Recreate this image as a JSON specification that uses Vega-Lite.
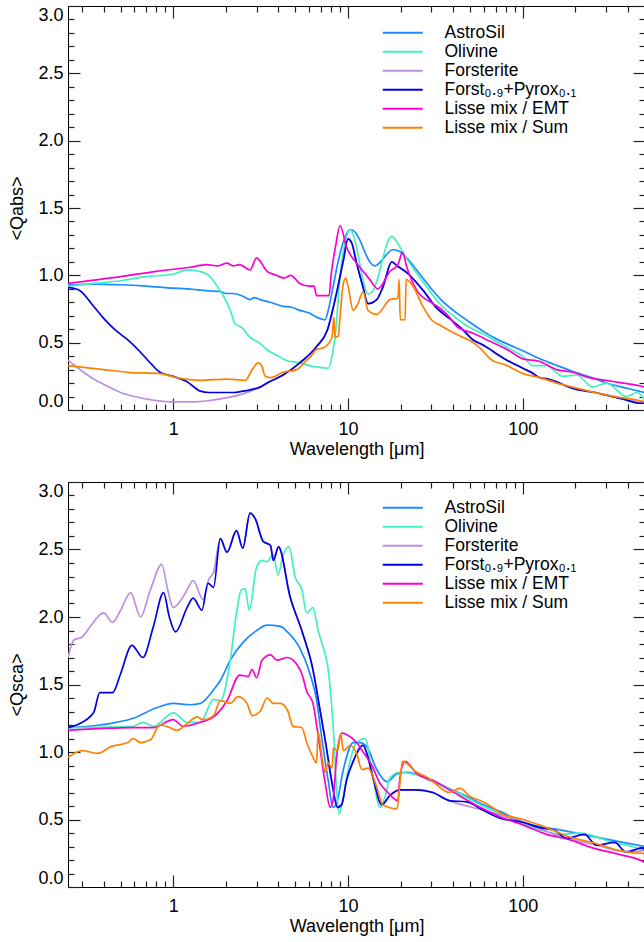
{
"$schema": "https://vega.github.io/schema/vega-lite/v6.json",
"padding": {"left": 8, "top": 4, "right": 0, "bottom": 4},
"bounds": "flush",
"spacing": 72,
"config": {
  "font": "Liberation Sans",
  "view": {"stroke": "black", "strokeWidth": 1},
  "axis": {"domain": false, "grid": false, "labelFontSize": 18, "labelColor": "black", "titleFontSize": 18, "titleFontWeight": "normal", "titleColor": "black", "tickColor": "#222", "tickWidth": 1.2, "labelFont": "Liberation Sans", "titleFont": "Liberation Sans", "labelOverlap": false},
  "legend": {"orient": "none", "legendX": 326, "legendY": 18, "title": null, "symbolType": "M-4,0H4", "symbolSize": 100, "symbolStrokeWidth": 2.2, "labelFontSize": 17.5, "labelFont": "Liberation Sans", "labelColor": "black", "labelOffset": 33, "rowPadding": 0, "padding": 0, "labelLimit": 300}
},
"resolve": {"legend": {"color": "independent"}},
"datasets": {
"abs": [
{"s":"AstroSil","w":0.25,"q":0.93},{"s":"AstroSil","w":0.35,"q":0.935},{"s":"AstroSil","w":0.5,"q":0.93},{"s":"AstroSil","w":0.7,"q":0.92},{"s":"AstroSil","w":1,"q":0.905},{"s":"AstroSil","w":1.2,"q":0.9},{"s":"AstroSil","w":1.43,"q":0.89},{"s":"AstroSil","w":1.6,"q":0.885},{"s":"AstroSil","w":1.86,"q":0.88},{"s":"AstroSil","w":2.0,"q":0.865},{"s":"AstroSil","w":2.2,"q":0.865},{"s":"AstroSil","w":2.5,"q":0.845},{"s":"AstroSil","w":2.75,"q":0.82},{"s":"AstroSil","w":2.9,"q":0.835},{"s":"AstroSil","w":3.14,"q":0.82},{"s":"AstroSil","w":3.6,"q":0.8},{"s":"AstroSil","w":4.25,"q":0.77},{"s":"AstroSil","w":4.7,"q":0.765},{"s":"AstroSil","w":5.3,"q":0.74},{"s":"AstroSil","w":6,"q":0.72},{"s":"AstroSil","w":6.6,"q":0.69},{"s":"AstroSil","w":7.4,"q":0.67},{"s":"AstroSil","w":7.7,"q":0.74},{"s":"AstroSil","w":8.2,"q":0.91},{"s":"AstroSil","w":8.8,"q":1.11},{"s":"AstroSil","w":9.4,"q":1.25},{"s":"AstroSil","w":10.3,"q":1.34},{"s":"AstroSil","w":11,"q":1.32},{"s":"AstroSil","w":11.8,"q":1.25},{"s":"AstroSil","w":12.6,"q":1.16},{"s":"AstroSil","w":13.5,"q":1.09},{"s":"AstroSil","w":14.3,"q":1.07},{"s":"AstroSil","w":15.3,"q":1.1},{"s":"AstroSil","w":16.5,"q":1.15},{"s":"AstroSil","w":18,"q":1.19},{"s":"AstroSil","w":19.5,"q":1.18},{"s":"AstroSil","w":22,"q":1.12},{"s":"AstroSil","w":25,"q":1.03},{"s":"AstroSil","w":30,"q":0.9},{"s":"AstroSil","w":34,"q":0.82},{"s":"AstroSil","w":40,"q":0.74},{"s":"AstroSil","w":50,"q":0.65},{"s":"AstroSil","w":60,"q":0.58},{"s":"AstroSil","w":70,"q":0.53},{"s":"AstroSil","w":85,"q":0.48},{"s":"AstroSil","w":100,"q":0.44},{"s":"AstroSil","w":125,"q":0.38},{"s":"AstroSil","w":150,"q":0.34},{"s":"AstroSil","w":200,"q":0.28},{"s":"AstroSil","w":250,"q":0.24},{"s":"AstroSil","w":300,"q":0.2},{"s":"AstroSil","w":400,"q":0.16},{"s":"AstroSil","w":500,"q":0.13},
{"s":"Olivine","w":0.25,"q":0.92},{"s":"Olivine","w":0.35,"q":0.94},{"s":"Olivine","w":0.5,"q":0.96},{"s":"Olivine","w":0.7,"q":0.99},{"s":"Olivine","w":1,"q":1.01},{"s":"Olivine","w":1.22,"q":1.04},{"s":"Olivine","w":1.5,"q":1.02},{"s":"Olivine","w":1.65,"q":0.98},{"s":"Olivine","w":1.78,"q":0.92},{"s":"Olivine","w":1.93,"q":0.85},{"s":"Olivine","w":2.12,"q":0.74},{"s":"Olivine","w":2.26,"q":0.64},{"s":"Olivine","w":2.48,"q":0.61},{"s":"Olivine","w":2.75,"q":0.54},{"s":"Olivine","w":3.1,"q":0.5},{"s":"Olivine","w":3.5,"q":0.44},{"s":"Olivine","w":4,"q":0.4},{"s":"Olivine","w":4.4,"q":0.37},{"s":"Olivine","w":5.3,"q":0.35},{"s":"Olivine","w":6,"q":0.33},{"s":"Olivine","w":6.6,"q":0.32},{"s":"Olivine","w":7.7,"q":0.31},{"s":"Olivine","w":8.1,"q":0.4},{"s":"Olivine","w":8.5,"q":0.59},{"s":"Olivine","w":9,"q":0.99},{"s":"Olivine","w":9.6,"q":1.24},{"s":"Olivine","w":10.3,"q":1.34},{"s":"Olivine","w":11,"q":1.25},{"s":"Olivine","w":11.7,"q":1.08},{"s":"Olivine","w":12.3,"q":0.94},{"s":"Olivine","w":13,"q":0.86},{"s":"Olivine","w":13.8,"q":0.88},{"s":"Olivine","w":14.8,"q":0.98},{"s":"Olivine","w":16,"q":1.15},{"s":"Olivine","w":17,"q":1.26},{"s":"Olivine","w":17.8,"q":1.29},{"s":"Olivine","w":19,"q":1.25},{"s":"Olivine","w":21,"q":1.15},{"s":"Olivine","w":24,"q":1.04},{"s":"Olivine","w":28,"q":0.92},{"s":"Olivine","w":34,"q":0.78},{"s":"Olivine","w":40,"q":0.7},{"s":"Olivine","w":50,"q":0.61},{"s":"Olivine","w":60,"q":0.56},{"s":"Olivine","w":75,"q":0.49},{"s":"Olivine","w":88,"q":0.44},{"s":"Olivine","w":100,"q":0.4},{"s":"Olivine","w":114,"q":0.33},{"s":"Olivine","w":137,"q":0.33},{"s":"Olivine","w":169,"q":0.25},{"s":"Olivine","w":204,"q":0.26},{"s":"Olivine","w":251,"q":0.17},{"s":"Olivine","w":302,"q":0.2},{"s":"Olivine","w":392,"q":0.1},{"s":"Olivine","w":450,"q":0.13},{"s":"Olivine","w":500,"q":0.07},
{"s":"Forsterite","w":0.25,"q":0.37},{"s":"Forsterite","w":0.3,"q":0.29},{"s":"Forsterite","w":0.35,"q":0.23},{"s":"Forsterite","w":0.4,"q":0.19},{"s":"Forsterite","w":0.5,"q":0.13},{"s":"Forsterite","w":0.6,"q":0.1},{"s":"Forsterite","w":0.8,"q":0.07},{"s":"Forsterite","w":1,"q":0.06},{"s":"Forsterite","w":1.3,"q":0.06},{"s":"Forsterite","w":1.6,"q":0.07},{"s":"Forsterite","w":2,"q":0.09},{"s":"Forsterite","w":2.5,"q":0.12},{"s":"Forsterite","w":3.14,"q":0.17},{"s":"Forsterite","w":3.44,"q":0.2},{"s":"Forsterite","w":4.25,"q":0.26},{"s":"Forsterite","w":5.3,"q":0.35},{"s":"Forsterite","w":6.6,"q":0.47},{"s":"Forsterite","w":7.6,"q":0.59},{"s":"Forsterite","w":8.6,"q":0.87},{"s":"Forsterite","w":9.4,"q":1.11},{"s":"Forsterite","w":10,"q":1.27},{"s":"Forsterite","w":10.5,"q":1.24},{"s":"Forsterite","w":11.2,"q":1.09},{"s":"Forsterite","w":12.2,"q":0.91},{"s":"Forsterite","w":13,"q":0.79},{"s":"Forsterite","w":14.6,"q":0.82},{"s":"Forsterite","w":15.8,"q":0.91},{"s":"Forsterite","w":17.8,"q":1.1},{"s":"Forsterite","w":19.1,"q":1.07},{"s":"Forsterite","w":21.7,"q":1.02},{"s":"Forsterite","w":26.8,"q":0.89},{"s":"Forsterite","w":32,"q":0.76},{"s":"Forsterite","w":38,"q":0.68},{"s":"Forsterite","w":45,"q":0.6},{"s":"Forsterite","w":52,"q":0.52},{"s":"Forsterite","w":65,"q":0.45},{"s":"Forsterite","w":81,"q":0.37},{"s":"Forsterite","w":100,"q":0.31},{"s":"Forsterite","w":125,"q":0.24},{"s":"Forsterite","w":156,"q":0.21},{"s":"Forsterite","w":193,"q":0.16},{"s":"Forsterite","w":260,"q":0.13},{"s":"Forsterite","w":350,"q":0.09},{"s":"Forsterite","w":500,"q":0.05},
{"s":"Forst₀.₉+Pyrox₀.₁","w":0.25,"q":0.91},{"s":"Forst₀.₉+Pyrox₀.₁","w":0.29,"q":0.89},{"s":"Forst₀.₉+Pyrox₀.₁","w":0.35,"q":0.77},{"s":"Forst₀.₉+Pyrox₀.₁","w":0.4,"q":0.68},{"s":"Forst₀.₉+Pyrox₀.₁","w":0.46,"q":0.6},{"s":"Forst₀.₉+Pyrox₀.₁","w":0.55,"q":0.52},{"s":"Forst₀.₉+Pyrox₀.₁","w":0.67,"q":0.41},{"s":"Forst₀.₉+Pyrox₀.₁","w":0.75,"q":0.34},{"s":"Forst₀.₉+Pyrox₀.₁","w":0.84,"q":0.28},{"s":"Forst₀.₉+Pyrox₀.₁","w":1,"q":0.25},{"s":"Forst₀.₉+Pyrox₀.₁","w":1.2,"q":0.21},{"s":"Forst₀.₉+Pyrox₀.₁","w":1.43,"q":0.14},{"s":"Forst₀.₉+Pyrox₀.₁","w":1.6,"q":0.13},{"s":"Forst₀.₉+Pyrox₀.₁","w":1.86,"q":0.13},{"s":"Forst₀.₉+Pyrox₀.₁","w":2.2,"q":0.13},{"s":"Forst₀.₉+Pyrox₀.₁","w":2.5,"q":0.14},{"s":"Forst₀.₉+Pyrox₀.₁","w":2.75,"q":0.15},{"s":"Forst₀.₉+Pyrox₀.₁","w":3.14,"q":0.17},{"s":"Forst₀.₉+Pyrox₀.₁","w":3.44,"q":0.2},{"s":"Forst₀.₉+Pyrox₀.₁","w":4.25,"q":0.26},{"s":"Forst₀.₉+Pyrox₀.₁","w":5.3,"q":0.35},{"s":"Forst₀.₉+Pyrox₀.₁","w":6.6,"q":0.47},{"s":"Forst₀.₉+Pyrox₀.₁","w":7.6,"q":0.59},{"s":"Forst₀.₉+Pyrox₀.₁","w":8.6,"q":0.87},{"s":"Forst₀.₉+Pyrox₀.₁","w":9.4,"q":1.11},{"s":"Forst₀.₉+Pyrox₀.₁","w":10,"q":1.27},{"s":"Forst₀.₉+Pyrox₀.₁","w":10.5,"q":1.24},{"s":"Forst₀.₉+Pyrox₀.₁","w":11.2,"q":1.09},{"s":"Forst₀.₉+Pyrox₀.₁","w":12.2,"q":0.91},{"s":"Forst₀.₉+Pyrox₀.₁","w":13,"q":0.79},{"s":"Forst₀.₉+Pyrox₀.₁","w":14.6,"q":0.82},{"s":"Forst₀.₉+Pyrox₀.₁","w":15.8,"q":0.91},{"s":"Forst₀.₉+Pyrox₀.₁","w":17.8,"q":1.1},{"s":"Forst₀.₉+Pyrox₀.₁","w":19.1,"q":1.07},{"s":"Forst₀.₉+Pyrox₀.₁","w":21.7,"q":1.02},{"s":"Forst₀.₉+Pyrox₀.₁","w":26.8,"q":0.89},{"s":"Forst₀.₉+Pyrox₀.₁","w":32,"q":0.76},{"s":"Forst₀.₉+Pyrox₀.₁","w":38,"q":0.68},{"s":"Forst₀.₉+Pyrox₀.₁","w":45,"q":0.6},{"s":"Forst₀.₉+Pyrox₀.₁","w":52,"q":0.52},{"s":"Forst₀.₉+Pyrox₀.₁","w":58,"q":0.49},{"s":"Forst₀.₉+Pyrox₀.₁","w":65,"q":0.45},{"s":"Forst₀.₉+Pyrox₀.₁","w":72,"q":0.41},{"s":"Forst₀.₉+Pyrox₀.₁","w":81,"q":0.37},{"s":"Forst₀.₉+Pyrox₀.₁","w":90,"q":0.34},{"s":"Forst₀.₉+Pyrox₀.₁","w":100,"q":0.31},{"s":"Forst₀.₉+Pyrox₀.₁","w":112,"q":0.28},{"s":"Forst₀.₉+Pyrox₀.₁","w":125,"q":0.24},{"s":"Forst₀.₉+Pyrox₀.₁","w":140,"q":0.23},{"s":"Forst₀.₉+Pyrox₀.₁","w":156,"q":0.21},{"s":"Forst₀.₉+Pyrox₀.₁","w":175,"q":0.18},{"s":"Forst₀.₉+Pyrox₀.₁","w":193,"q":0.16},{"s":"Forst₀.₉+Pyrox₀.₁","w":230,"q":0.14},{"s":"Forst₀.₉+Pyrox₀.₁","w":260,"q":0.13},{"s":"Forst₀.₉+Pyrox₀.₁","w":300,"q":0.11},{"s":"Forst₀.₉+Pyrox₀.₁","w":350,"q":0.09},{"s":"Forst₀.₉+Pyrox₀.₁","w":400,"q":0.07},{"s":"Forst₀.₉+Pyrox₀.₁","w":465,"q":0.05},{"s":"Forst₀.₉+Pyrox₀.₁","w":500,"q":0.05},
{"s":"Lisse mix / EMT","w":0.25,"q":0.94},{"s":"Lisse mix / EMT","w":0.5,"q":0.99},{"s":"Lisse mix / EMT","w":0.8,"q":1.03},{"s":"Lisse mix / EMT","w":1.25,"q":1.06},{"s":"Lisse mix / EMT","w":1.56,"q":1.08},{"s":"Lisse mix / EMT","w":1.8,"q":1.07},{"s":"Lisse mix / EMT","w":2.03,"q":1.09},{"s":"Lisse mix / EMT","w":2.2,"q":1.07},{"s":"Lisse mix / EMT","w":2.4,"q":1.08},{"s":"Lisse mix / EMT","w":2.75,"q":1.04},{"s":"Lisse mix / EMT","w":3,"q":1.13},{"s":"Lisse mix / EMT","w":3.2,"q":1.09},{"s":"Lisse mix / EMT","w":3.44,"q":1.03},{"s":"Lisse mix / EMT","w":3.9,"q":1.0},{"s":"Lisse mix / EMT","w":4.3,"q":0.98},{"s":"Lisse mix / EMT","w":4.7,"q":1.0},{"s":"Lisse mix / EMT","w":5.3,"q":0.94},{"s":"Lisse mix / EMT","w":6,"q":0.92},{"s":"Lisse mix / EMT","w":6.4,"q":0.92},{"s":"Lisse mix / EMT","w":6.6,"q":0.85},{"s":"Lisse mix / EMT","w":7.8,"q":0.85},{"s":"Lisse mix / EMT","w":8,"q":1.0},{"s":"Lisse mix / EMT","w":8.5,"q":1.22},{"s":"Lisse mix / EMT","w":9,"q":1.37},{"s":"Lisse mix / EMT","w":9.8,"q":1.21},{"s":"Lisse mix / EMT","w":11.2,"q":1.09},{"s":"Lisse mix / EMT","w":12.2,"q":1.03},{"s":"Lisse mix / EMT","w":13.3,"q":0.97},{"s":"Lisse mix / EMT","w":14.8,"q":0.9},{"s":"Lisse mix / EMT","w":17.4,"q":1.03},{"s":"Lisse mix / EMT","w":19.3,"q":1.08},{"s":"Lisse mix / EMT","w":20.5,"q":1.17},{"s":"Lisse mix / EMT","w":21.7,"q":1.06},{"s":"Lisse mix / EMT","w":24.7,"q":0.89},{"s":"Lisse mix / EMT","w":30.6,"q":0.79},{"s":"Lisse mix / EMT","w":34,"q":0.75},{"s":"Lisse mix / EMT","w":38,"q":0.69},{"s":"Lisse mix / EMT","w":42,"q":0.62},{"s":"Lisse mix / EMT","w":52,"q":0.57},{"s":"Lisse mix / EMT","w":65,"q":0.51},{"s":"Lisse mix / EMT","w":81,"q":0.45},{"s":"Lisse mix / EMT","w":100,"q":0.38},{"s":"Lisse mix / EMT","w":125,"q":0.36},{"s":"Lisse mix / EMT","w":156,"q":0.3},{"s":"Lisse mix / EMT","w":193,"q":0.28},{"s":"Lisse mix / EMT","w":240,"q":0.24},{"s":"Lisse mix / EMT","w":300,"q":0.22},{"s":"Lisse mix / EMT","w":375,"q":0.2},{"s":"Lisse mix / EMT","w":465,"q":0.18},{"s":"Lisse mix / EMT","w":500,"q":0.17},
{"s":"Lisse mix / Sum","w":0.25,"q":0.33},{"s":"Lisse mix / Sum","w":0.4,"q":0.3},{"s":"Lisse mix / Sum","w":0.55,"q":0.28},{"s":"Lisse mix / Sum","w":0.84,"q":0.27},{"s":"Lisse mix / Sum","w":1.05,"q":0.24},{"s":"Lisse mix / Sum","w":1.43,"q":0.22},{"s":"Lisse mix / Sum","w":2.03,"q":0.23},{"s":"Lisse mix / Sum","w":2.58,"q":0.22},{"s":"Lisse mix / Sum","w":2.83,"q":0.3},{"s":"Lisse mix / Sum","w":3.06,"q":0.35},{"s":"Lisse mix / Sum","w":3.2,"q":0.33},{"s":"Lisse mix / Sum","w":3.36,"q":0.25},{"s":"Lisse mix / Sum","w":3.6,"q":0.24},{"s":"Lisse mix / Sum","w":4.25,"q":0.28},{"s":"Lisse mix / Sum","w":5.1,"q":0.3},{"s":"Lisse mix / Sum","w":5.8,"q":0.37},{"s":"Lisse mix / Sum","w":6.06,"q":0.39},{"s":"Lisse mix / Sum","w":6.6,"q":0.45},{"s":"Lisse mix / Sum","w":7.2,"q":0.46},{"s":"Lisse mix / Sum","w":8.1,"q":0.54},{"s":"Lisse mix / Sum","w":8.3,"q":0.69},{"s":"Lisse mix / Sum","w":8.45,"q":0.54},{"s":"Lisse mix / Sum","w":8.8,"q":0.55},{"s":"Lisse mix / Sum","w":9,"q":0.69},{"s":"Lisse mix / Sum","w":9.4,"q":0.94},{"s":"Lisse mix / Sum","w":9.7,"q":0.98},{"s":"Lisse mix / Sum","w":10,"q":0.92},{"s":"Lisse mix / Sum","w":10.7,"q":0.74},{"s":"Lisse mix / Sum","w":11.4,"q":0.79},{"s":"Lisse mix / Sum","w":12.2,"q":0.88},{"s":"Lisse mix / Sum","w":13,"q":0.74},{"s":"Lisse mix / Sum","w":14.6,"q":0.71},{"s":"Lisse mix / Sum","w":17.4,"q":0.82},{"s":"Lisse mix / Sum","w":19.3,"q":0.83},{"s":"Lisse mix / Sum","w":19.6,"q":0.97},{"s":"Lisse mix / Sum","w":19.9,"q":0.67},{"s":"Lisse mix / Sum","w":21.2,"q":0.67},{"s":"Lisse mix / Sum","w":21.5,"q":0.97},{"s":"Lisse mix / Sum","w":23.5,"q":0.92},{"s":"Lisse mix / Sum","w":26.8,"q":0.77},{"s":"Lisse mix / Sum","w":30,"q":0.67},{"s":"Lisse mix / Sum","w":33.6,"q":0.63},{"s":"Lisse mix / Sum","w":42,"q":0.56},{"s":"Lisse mix / Sum","w":52,"q":0.5},{"s":"Lisse mix / Sum","w":58,"q":0.45},{"s":"Lisse mix / Sum","w":65,"q":0.38},{"s":"Lisse mix / Sum","w":81,"q":0.33},{"s":"Lisse mix / Sum","w":100,"q":0.27},{"s":"Lisse mix / Sum","w":125,"q":0.24},{"s":"Lisse mix / Sum","w":156,"q":0.2},{"s":"Lisse mix / Sum","w":193,"q":0.17},{"s":"Lisse mix / Sum","w":300,"q":0.11},{"s":"Lisse mix / Sum","w":465,"q":0.07},{"s":"Lisse mix / Sum","w":500,"q":0.06}
],
"sca": [
{"s":"AstroSil","w":0.25,"q":1.18},{"s":"AstroSil","w":0.38,"q":1.2},{"s":"AstroSil","w":0.59,"q":1.25},{"s":"AstroSil","w":0.81,"q":1.33},{"s":"AstroSil","w":1,"q":1.36},{"s":"AstroSil","w":1.25,"q":1.35},{"s":"AstroSil","w":1.43,"q":1.36},{"s":"AstroSil","w":1.56,"q":1.4},{"s":"AstroSil","w":1.7,"q":1.46},{"s":"AstroSil","w":1.86,"q":1.53},{"s":"AstroSil","w":2.12,"q":1.68},{"s":"AstroSil","w":2.5,"q":1.81},{"s":"AstroSil","w":3,"q":1.9},{"s":"AstroSil","w":3.44,"q":1.94},{"s":"AstroSil","w":4.1,"q":1.93},{"s":"AstroSil","w":4.5,"q":1.89},{"s":"AstroSil","w":5.3,"q":1.77},{"s":"AstroSil","w":6.06,"q":1.58},{"s":"AstroSil","w":6.6,"q":1.39},{"s":"AstroSil","w":7.1,"q":1.09},{"s":"AstroSil","w":7.7,"q":0.79},{"s":"AstroSil","w":8.2,"q":0.59},{"s":"AstroSil","w":8.6,"q":0.62},{"s":"AstroSil","w":9.4,"q":0.87},{"s":"AstroSil","w":10.7,"q":1.07},{"s":"AstroSil","w":11.7,"q":1.07},{"s":"AstroSil","w":12.8,"q":1.04},{"s":"AstroSil","w":14.6,"q":0.87},{"s":"AstroSil","w":16.7,"q":0.78},{"s":"AstroSil","w":19.1,"q":0.84},{"s":"AstroSil","w":21.7,"q":0.85},{"s":"AstroSil","w":30.6,"q":0.78},{"s":"AstroSil","w":48,"q":0.67},{"s":"AstroSil","w":57,"q":0.62},{"s":"AstroSil","w":74,"q":0.56},{"s":"AstroSil","w":100,"q":0.48},{"s":"AstroSil","w":169,"q":0.42},{"s":"AstroSil","w":285,"q":0.36},{"s":"AstroSil","w":500,"q":0.3},
{"s":"Olivine","w":0.25,"q":1.18},{"s":"Olivine","w":0.59,"q":1.19},{"s":"Olivine","w":0.67,"q":1.22},{"s":"Olivine","w":0.77,"q":1.19},{"s":"Olivine","w":1,"q":1.29},{"s":"Olivine","w":1.2,"q":1.22},{"s":"Olivine","w":1.43,"q":1.22},{"s":"Olivine","w":1.7,"q":1.39},{"s":"Olivine","w":1.86,"q":1.38},{"s":"Olivine","w":2.12,"q":1.68},{"s":"Olivine","w":2.3,"q":2.03},{"s":"Olivine","w":2.45,"q":2.2},{"s":"Olivine","w":2.58,"q":2.21},{"s":"Olivine","w":2.72,"q":2.05},{"s":"Olivine","w":3,"q":2.37},{"s":"Olivine","w":3.22,"q":2.42},{"s":"Olivine","w":3.44,"q":2.41},{"s":"Olivine","w":3.74,"q":2.46},{"s":"Olivine","w":3.98,"q":2.31},{"s":"Olivine","w":4.25,"q":2.46},{"s":"Olivine","w":4.6,"q":2.52},{"s":"Olivine","w":4.97,"q":2.3},{"s":"Olivine","w":5.45,"q":2.2},{"s":"Olivine","w":5.8,"q":2.03},{"s":"Olivine","w":6.3,"q":2.07},{"s":"Olivine","w":6.75,"q":1.9},{"s":"Olivine","w":7.3,"q":1.75},{"s":"Olivine","w":7.6,"q":1.66},{"s":"Olivine","w":8,"q":1.4},{"s":"Olivine","w":8.3,"q":1.1},{"s":"Olivine","w":8.6,"q":0.72},{"s":"Olivine","w":8.9,"q":0.54},{"s":"Olivine","w":9.4,"q":0.67},{"s":"Olivine","w":10.3,"q":0.94},{"s":"Olivine","w":11.2,"q":1.07},{"s":"Olivine","w":12.5,"q":1.1},{"s":"Olivine","w":13.9,"q":0.81},{"s":"Olivine","w":15.2,"q":0.59},{"s":"Olivine","w":16.3,"q":0.67},{"s":"Olivine","w":17.4,"q":0.81},{"s":"Olivine","w":19.8,"q":0.85},{"s":"Olivine","w":24.7,"q":0.83},{"s":"Olivine","w":38,"q":0.73},{"s":"Olivine","w":59,"q":0.6},{"s":"Olivine","w":100,"q":0.47},{"s":"Olivine","w":169,"q":0.39},{"s":"Olivine","w":210,"q":0.4},{"s":"Olivine","w":330,"q":0.33},{"s":"Olivine","w":425,"q":0.3},{"s":"Olivine","w":500,"q":0.27},
{"s":"Forsterite","w":0.25,"q":1.7},{"s":"Forsterite","w":0.27,"q":1.83},{"s":"Forsterite","w":0.3,"q":1.85},{"s":"Forsterite","w":0.335,"q":1.93},{"s":"Forsterite","w":0.4,"q":2.03},{"s":"Forsterite","w":0.45,"q":1.96},{"s":"Forsterite","w":0.5,"q":2.05},{"s":"Forsterite","w":0.57,"q":2.18},{"s":"Forsterite","w":0.65,"q":2.0},{"s":"Forsterite","w":0.74,"q":2.2},{"s":"Forsterite","w":0.86,"q":2.39},{"s":"Forsterite","w":0.93,"q":2.2},{"s":"Forsterite","w":1,"q":2.07},{"s":"Forsterite","w":1.1,"q":2.12},{"s":"Forsterite","w":1.2,"q":2.2},{"s":"Forsterite","w":1.3,"q":2.27},{"s":"Forsterite","w":1.48,"q":2.13},{"s":"Forsterite","w":1.6,"q":2.28},{"s":"Forsterite","w":1.7,"q":2.33},{"s":"Forsterite","w":1.86,"q":2.58},{"s":"Forsterite","w":2.03,"q":2.48},{"s":"Forsterite","w":2.3,"q":2.64},{"s":"Forsterite","w":2.5,"q":2.51},{"s":"Forsterite","w":2.75,"q":2.77},{"s":"Forsterite","w":2.94,"q":2.73},{"s":"Forsterite","w":3.27,"q":2.56},{"s":"Forsterite","w":3.6,"q":2.53},{"s":"Forsterite","w":3.74,"q":2.42},{"s":"Forsterite","w":4,"q":2.52},{"s":"Forsterite","w":4.66,"q":2.15},{"s":"Forsterite","w":5.5,"q":1.88},{"s":"Forsterite","w":6.3,"q":1.61},{"s":"Forsterite","w":6.75,"q":1.39},{"s":"Forsterite","w":7.4,"q":1.09},{"s":"Forsterite","w":8.1,"q":0.77},{"s":"Forsterite","w":8.7,"q":0.59},{"s":"Forsterite","w":9.2,"q":0.61},{"s":"Forsterite","w":9.8,"q":0.79},{"s":"Forsterite","w":10.7,"q":0.93},{"s":"Forsterite","w":12.2,"q":1.05},{"s":"Forsterite","w":12.8,"q":0.99},{"s":"Forsterite","w":13.9,"q":0.81},{"s":"Forsterite","w":15.6,"q":0.61},{"s":"Forsterite","w":17.4,"q":0.68},{"s":"Forsterite","w":19.8,"q":0.72},{"s":"Forsterite","w":24.7,"q":0.72},{"s":"Forsterite","w":30.6,"q":0.7},{"s":"Forsterite","w":38,"q":0.64},{"s":"Forsterite","w":59,"q":0.57},{"s":"Forsterite","w":100,"q":0.48},{"s":"Forsterite","w":178,"q":0.36},{"s":"Forsterite","w":264,"q":0.31},{"s":"Forsterite","w":390,"q":0.26},{"s":"Forsterite","w":500,"q":0.27},
{"s":"Forst₀.₉+Pyrox₀.₁","w":0.25,"q":1.18},{"s":"Forst₀.₉+Pyrox₀.₁","w":0.28,"q":1.2},{"s":"Forst₀.₉+Pyrox₀.₁","w":0.35,"q":1.29},{"s":"Forst₀.₉+Pyrox₀.₁","w":0.38,"q":1.44},{"s":"Forst₀.₉+Pyrox₀.₁","w":0.45,"q":1.44},{"s":"Forst₀.₉+Pyrox₀.₁","w":0.5,"q":1.58},{"s":"Forst₀.₉+Pyrox₀.₁","w":0.58,"q":1.79},{"s":"Forst₀.₉+Pyrox₀.₁","w":0.67,"q":1.7},{"s":"Forst₀.₉+Pyrox₀.₁","w":0.77,"q":1.93},{"s":"Forst₀.₉+Pyrox₀.₁","w":0.88,"q":2.18},{"s":"Forst₀.₉+Pyrox₀.₁","w":0.95,"q":2.0},{"s":"Forst₀.₉+Pyrox₀.₁","w":1.03,"q":1.89},{"s":"Forst₀.₉+Pyrox₀.₁","w":1.2,"q":2.07},{"s":"Forst₀.₉+Pyrox₀.₁","w":1.3,"q":2.14},{"s":"Forst₀.₉+Pyrox₀.₁","w":1.46,"q":2.05},{"s":"Forst₀.₉+Pyrox₀.₁","w":1.58,"q":2.25},{"s":"Forst₀.₉+Pyrox₀.₁","w":1.7,"q":2.22},{"s":"Forst₀.₉+Pyrox₀.₁","w":1.86,"q":2.58},{"s":"Forst₀.₉+Pyrox₀.₁","w":2.03,"q":2.48},{"s":"Forst₀.₉+Pyrox₀.₁","w":2.3,"q":2.64},{"s":"Forst₀.₉+Pyrox₀.₁","w":2.5,"q":2.51},{"s":"Forst₀.₉+Pyrox₀.₁","w":2.75,"q":2.77},{"s":"Forst₀.₉+Pyrox₀.₁","w":2.94,"q":2.73},{"s":"Forst₀.₉+Pyrox₀.₁","w":3.27,"q":2.56},{"s":"Forst₀.₉+Pyrox₀.₁","w":3.6,"q":2.53},{"s":"Forst₀.₉+Pyrox₀.₁","w":3.74,"q":2.42},{"s":"Forst₀.₉+Pyrox₀.₁","w":4,"q":2.52},{"s":"Forst₀.₉+Pyrox₀.₁","w":4.66,"q":2.15},{"s":"Forst₀.₉+Pyrox₀.₁","w":5.5,"q":1.88},{"s":"Forst₀.₉+Pyrox₀.₁","w":6.3,"q":1.61},{"s":"Forst₀.₉+Pyrox₀.₁","w":6.75,"q":1.39},{"s":"Forst₀.₉+Pyrox₀.₁","w":7.4,"q":1.09},{"s":"Forst₀.₉+Pyrox₀.₁","w":8.1,"q":0.77},{"s":"Forst₀.₉+Pyrox₀.₁","w":8.7,"q":0.59},{"s":"Forst₀.₉+Pyrox₀.₁","w":9.2,"q":0.61},{"s":"Forst₀.₉+Pyrox₀.₁","w":9.8,"q":0.79},{"s":"Forst₀.₉+Pyrox₀.₁","w":10.7,"q":0.93},{"s":"Forst₀.₉+Pyrox₀.₁","w":12.2,"q":1.05},{"s":"Forst₀.₉+Pyrox₀.₁","w":12.8,"q":0.99},{"s":"Forst₀.₉+Pyrox₀.₁","w":13.9,"q":0.81},{"s":"Forst₀.₉+Pyrox₀.₁","w":15.6,"q":0.61},{"s":"Forst₀.₉+Pyrox₀.₁","w":17.4,"q":0.68},{"s":"Forst₀.₉+Pyrox₀.₁","w":19.8,"q":0.72},{"s":"Forst₀.₉+Pyrox₀.₁","w":24.7,"q":0.72},{"s":"Forst₀.₉+Pyrox₀.₁","w":30.6,"q":0.7},{"s":"Forst₀.₉+Pyrox₀.₁","w":38,"q":0.64},{"s":"Forst₀.₉+Pyrox₀.₁","w":47.8,"q":0.63},{"s":"Forst₀.₉+Pyrox₀.₁","w":59,"q":0.57},{"s":"Forst₀.₉+Pyrox₀.₁","w":74,"q":0.51},{"s":"Forst₀.₉+Pyrox₀.₁","w":100,"q":0.48},{"s":"Forst₀.₉+Pyrox₀.₁","w":125,"q":0.44},{"s":"Forst₀.₉+Pyrox₀.₁","w":152,"q":0.42},{"s":"Forst₀.₉+Pyrox₀.₁","w":178,"q":0.36},{"s":"Forst₀.₉+Pyrox₀.₁","w":225,"q":0.39},{"s":"Forst₀.₉+Pyrox₀.₁","w":264,"q":0.31},{"s":"Forst₀.₉+Pyrox₀.₁","w":335,"q":0.33},{"s":"Forst₀.₉+Pyrox₀.₁","w":390,"q":0.26},{"s":"Forst₀.₉+Pyrox₀.₁","w":485,"q":0.29},{"s":"Forst₀.₉+Pyrox₀.₁","w":500,"q":0.27},
{"s":"Lisse mix / EMT","w":0.25,"q":1.16},{"s":"Lisse mix / EMT","w":0.59,"q":1.18},{"s":"Lisse mix / EMT","w":0.77,"q":1.18},{"s":"Lisse mix / EMT","w":1,"q":1.24},{"s":"Lisse mix / EMT","w":1.14,"q":1.19},{"s":"Lisse mix / EMT","w":1.43,"q":1.22},{"s":"Lisse mix / EMT","w":1.7,"q":1.26},{"s":"Lisse mix / EMT","w":2.03,"q":1.38},{"s":"Lisse mix / EMT","w":2.4,"q":1.57},{"s":"Lisse mix / EMT","w":2.68,"q":1.56},{"s":"Lisse mix / EMT","w":2.83,"q":1.61},{"s":"Lisse mix / EMT","w":3,"q":1.55},{"s":"Lisse mix / EMT","w":3.22,"q":1.68},{"s":"Lisse mix / EMT","w":3.6,"q":1.72},{"s":"Lisse mix / EMT","w":3.92,"q":1.68},{"s":"Lisse mix / EMT","w":4.5,"q":1.7},{"s":"Lisse mix / EMT","w":4.85,"q":1.68},{"s":"Lisse mix / EMT","w":5.5,"q":1.56},{"s":"Lisse mix / EMT","w":5.8,"q":1.45},{"s":"Lisse mix / EMT","w":6.3,"q":1.36},{"s":"Lisse mix / EMT","w":6.75,"q":1.12},{"s":"Lisse mix / EMT","w":7.4,"q":0.77},{"s":"Lisse mix / EMT","w":7.9,"q":0.59},{"s":"Lisse mix / EMT","w":8.2,"q":0.64},{"s":"Lisse mix / EMT","w":8.6,"q":0.96},{"s":"Lisse mix / EMT","w":9.2,"q":1.14},{"s":"Lisse mix / EMT","w":9.8,"q":1.13},{"s":"Lisse mix / EMT","w":11.2,"q":1.07},{"s":"Lisse mix / EMT","w":12.2,"q":1.0},{"s":"Lisse mix / EMT","w":13.7,"q":0.9},{"s":"Lisse mix / EMT","w":15.2,"q":0.77},{"s":"Lisse mix / EMT","w":16.9,"q":0.7},{"s":"Lisse mix / EMT","w":19.3,"q":0.64},{"s":"Lisse mix / EMT","w":19.8,"q":0.81},{"s":"Lisse mix / EMT","w":21.2,"q":0.93},{"s":"Lisse mix / EMT","w":24.7,"q":0.84},{"s":"Lisse mix / EMT","w":30.6,"q":0.79},{"s":"Lisse mix / EMT","w":38,"q":0.72},{"s":"Lisse mix / EMT","w":57,"q":0.59},{"s":"Lisse mix / EMT","w":74,"q":0.52},{"s":"Lisse mix / EMT","w":100,"q":0.46},{"s":"Lisse mix / EMT","w":137,"q":0.39},{"s":"Lisse mix / EMT","w":185,"q":0.35},{"s":"Lisse mix / EMT","w":250,"q":0.29},{"s":"Lisse mix / EMT","w":360,"q":0.24},{"s":"Lisse mix / EMT","w":485,"q":0.19},{"s":"Lisse mix / EMT","w":500,"q":0.18},
{"s":"Lisse mix / Sum","w":0.25,"q":0.96},{"s":"Lisse mix / Sum","w":0.3,"q":1.01},{"s":"Lisse mix / Sum","w":0.37,"q":0.99},{"s":"Lisse mix / Sum","w":0.44,"q":1.04},{"s":"Lisse mix / Sum","w":0.55,"q":1.07},{"s":"Lisse mix / Sum","w":0.59,"q":1.1},{"s":"Lisse mix / Sum","w":0.65,"q":1.07},{"s":"Lisse mix / Sum","w":0.74,"q":1.09},{"s":"Lisse mix / Sum","w":0.84,"q":1.2},{"s":"Lisse mix / Sum","w":0.96,"q":1.18},{"s":"Lisse mix / Sum","w":1.05,"q":1.16},{"s":"Lisse mix / Sum","w":1.2,"q":1.21},{"s":"Lisse mix / Sum","w":1.37,"q":1.26},{"s":"Lisse mix / Sum","w":1.48,"q":1.24},{"s":"Lisse mix / Sum","w":1.7,"q":1.27},{"s":"Lisse mix / Sum","w":1.86,"q":1.38},{"s":"Lisse mix / Sum","w":2.12,"q":1.36},{"s":"Lisse mix / Sum","w":2.35,"q":1.41},{"s":"Lisse mix / Sum","w":2.64,"q":1.36},{"s":"Lisse mix / Sum","w":2.83,"q":1.27},{"s":"Lisse mix / Sum","w":3.14,"q":1.3},{"s":"Lisse mix / Sum","w":3.44,"q":1.4},{"s":"Lisse mix / Sum","w":3.74,"q":1.36},{"s":"Lisse mix / Sum","w":4.1,"q":1.36},{"s":"Lisse mix / Sum","w":4.5,"q":1.31},{"s":"Lisse mix / Sum","w":4.85,"q":1.19},{"s":"Lisse mix / Sum","w":5.45,"q":1.18},{"s":"Lisse mix / Sum","w":5.8,"q":1.07},{"s":"Lisse mix / Sum","w":6.2,"q":0.98},{"s":"Lisse mix / Sum","w":6.6,"q":0.92},{"s":"Lisse mix / Sum","w":6.75,"q":1.15},{"s":"Lisse mix / Sum","w":7.1,"q":0.96},{"s":"Lisse mix / Sum","w":7.4,"q":0.85},{"s":"Lisse mix / Sum","w":7.7,"q":0.92},{"s":"Lisse mix / Sum","w":8.1,"q":0.88},{"s":"Lisse mix / Sum","w":8.25,"q":1.03},{"s":"Lisse mix / Sum","w":8.7,"q":1.01},{"s":"Lisse mix / Sum","w":9.1,"q":1.13},{"s":"Lisse mix / Sum","w":9.4,"q":1.01},{"s":"Lisse mix / Sum","w":10.3,"q":1.05},{"s":"Lisse mix / Sum","w":11.2,"q":0.99},{"s":"Lisse mix / Sum","w":12,"q":0.87},{"s":"Lisse mix / Sum","w":13,"q":0.88},{"s":"Lisse mix / Sum","w":14.6,"q":0.74},{"s":"Lisse mix / Sum","w":15.8,"q":0.61},{"s":"Lisse mix / Sum","w":19.1,"q":0.58},{"s":"Lisse mix / Sum","w":19.8,"q":0.77},{"s":"Lisse mix / Sum","w":20.5,"q":0.93},{"s":"Lisse mix / Sum","w":24.7,"q":0.85},{"s":"Lisse mix / Sum","w":28.6,"q":0.81},{"s":"Lisse mix / Sum","w":31.3,"q":0.77},{"s":"Lisse mix / Sum","w":38,"q":0.7},{"s":"Lisse mix / Sum","w":43.6,"q":0.73},{"s":"Lisse mix / Sum","w":50,"q":0.67},{"s":"Lisse mix / Sum","w":57,"q":0.64},{"s":"Lisse mix / Sum","w":67,"q":0.59},{"s":"Lisse mix / Sum","w":74,"q":0.55},{"s":"Lisse mix / Sum","w":100,"q":0.5},{"s":"Lisse mix / Sum","w":137,"q":0.44},{"s":"Lisse mix / Sum","w":185,"q":0.37},{"s":"Lisse mix / Sum","w":250,"q":0.33},{"s":"Lisse mix / Sum","w":360,"q":0.27},{"s":"Lisse mix / Sum","w":475,"q":0.25},{"s":"Lisse mix / Sum","w":495,"q":0.25},{"s":"Lisse mix / Sum","w":500,"q":0.15}
]
},
"vconcat": [
{
  "width": 577, "height": 404,
  "data": {"name": "abs"},
  "layer": [
    {"mark": {"type": "line", "clip": true, "interpolate": "monotone"},
     "encoding": {
       "x": {"field": "w", "type": "quantitative", "scale": {"type": "log", "domain": [0.25, 500], "nice": false},
             "axis": {"orient": "bottom", "values": [0.3,0.4,0.5,0.6,0.7,0.8,0.9,1,2,3,4,5,6,7,8,9,10,20,30,40,50,60,70,80,90,100,200,300,400,500],
                      "labelExpr": "datum.value == 1 || datum.value == 10 || datum.value == 100 ? format(datum.value, 'd') : ''",
                      "tickSize": {"condition": {"test": "datum.value == 1 || datum.value == 10 || datum.value == 100", "value": -12}, "value": -6},
                      "labelPadding": 22, "title": "Wavelength [μm]", "titlePadding": -4}},
       "y": {"field": "q", "type": "quantitative", "scale": {"domain": [0, 3], "nice": false, "zero": false},
             "axis": {"orient": "left", "values": [0,0.1,0.2,0.3,0.4,0.5,0.6,0.7,0.8,0.9,1,1.1,1.2,1.3,1.4,1.5,1.6,1.7,1.8,1.9,2,2.1,2.2,2.3,2.4,2.5,2.6,2.7,2.8,2.9,3],
                      "labelExpr": "round(datum.value*10) % 5 == 0 ? format(datum.value, '.1f') : ''",
                      "tickSize": {"condition": {"test": "round(datum.value*10) % 5 == 0", "value": -12}, "value": -6},
                      "labelPadding": 17, "labelFlush": true, "title": "<Qabs>", "titlePadding": 11}},
       "color": {"field": "s", "type": "nominal",
                 "scale": {"domain": ["AstroSil","Olivine","Forsterite","Forst₀.₉+Pyrox₀.₁","Lisse mix / EMT","Lisse mix / Sum"],
                           "range": ["#1a8cff","#40f0c0","#bb90dd","#0000e6","#ff00cc","#ff8000"]},
                 "legend": {}},
       "strokeWidth": {"field": "s", "type": "ordinal",
                 "scale": {"domain": ["AstroSil","Olivine","Forsterite","Forst₀.₉+Pyrox₀.₁","Lisse mix / EMT","Lisse mix / Sum"],
                           "range": [1.7,1.7,2.2,2.2,1.7,2.2]},
                 "legend": null}
     }},
    {"mark": {"type": "point", "opacity": 0},
     "encoding": {
       "x": {"field": "w", "type": "quantitative",
             "axis": {"orient": "top", "values": [0.3,0.4,0.5,0.6,0.7,0.8,0.9,1,2,3,4,5,6,7,8,9,10,20,30,40,50,60,70,80,90,100,200,300,400,500], "labels": false, "title": null,
                      "tickSize": {"condition": {"test": "datum.value == 1 || datum.value == 10 || datum.value == 100", "value": -12}, "value": -6}}},
       "y": {"field": "q", "type": "quantitative",
             "axis": {"orient": "right", "values": [0,0.1,0.2,0.3,0.4,0.5,0.6,0.7,0.8,0.9,1,1.1,1.2,1.3,1.4,1.5,1.6,1.7,1.8,1.9,2,2.1,2.2,2.3,2.4,2.5,2.6,2.7,2.8,2.9,3], "labels": false, "title": null,
                      "tickSize": {"condition": {"test": "round(datum.value*10) % 5 == 0", "value": -12}, "value": -6}}}
     }}
  ],
  "resolve": {"axis": {"x": "independent", "y": "independent"}}
},
{
  "width": 577, "height": 405,
  "data": {"name": "sca"},
  "layer": [
    {"mark": {"type": "line", "clip": true, "interpolate": "monotone"},
     "encoding": {
       "x": {"field": "w", "type": "quantitative", "scale": {"type": "log", "domain": [0.25, 500], "nice": false},
             "axis": {"orient": "bottom", "values": [0.3,0.4,0.5,0.6,0.7,0.8,0.9,1,2,3,4,5,6,7,8,9,10,20,30,40,50,60,70,80,90,100,200,300,400,500],
                      "labelExpr": "datum.value == 1 || datum.value == 10 || datum.value == 100 ? format(datum.value, 'd') : ''",
                      "tickSize": {"condition": {"test": "datum.value == 1 || datum.value == 10 || datum.value == 100", "value": -12}, "value": -6},
                      "labelPadding": 22, "title": "Wavelength [μm]", "titlePadding": -4}},
       "y": {"field": "q", "type": "quantitative", "scale": {"domain": [0, 3], "nice": false, "zero": false},
             "axis": {"orient": "left", "values": [0,0.1,0.2,0.3,0.4,0.5,0.6,0.7,0.8,0.9,1,1.1,1.2,1.3,1.4,1.5,1.6,1.7,1.8,1.9,2,2.1,2.2,2.3,2.4,2.5,2.6,2.7,2.8,2.9,3],
                      "labelExpr": "round(datum.value*10) % 5 == 0 ? format(datum.value, '.1f') : ''",
                      "tickSize": {"condition": {"test": "round(datum.value*10) % 5 == 0", "value": -12}, "value": -6},
                      "labelPadding": 17, "labelFlush": true, "title": "<Qsca>", "titlePadding": 11}},
       "color": {"field": "s", "type": "nominal",
                 "scale": {"domain": ["AstroSil","Olivine","Forsterite","Forst₀.₉+Pyrox₀.₁","Lisse mix / EMT","Lisse mix / Sum"],
                           "range": ["#1a8cff","#40f0c0","#bb90dd","#0000e6","#ff00cc","#ff8000"]},
                 "legend": {"legendY": 17}},
       "strokeWidth": {"field": "s", "type": "ordinal",
                 "scale": {"domain": ["AstroSil","Olivine","Forsterite","Forst₀.₉+Pyrox₀.₁","Lisse mix / EMT","Lisse mix / Sum"],
                           "range": [1.7,1.7,2.2,2.2,1.7,2.2]},
                 "legend": null}
     }},
    {"mark": {"type": "point", "opacity": 0},
     "encoding": {
       "x": {"field": "w", "type": "quantitative",
             "axis": {"orient": "top", "values": [0.3,0.4,0.5,0.6,0.7,0.8,0.9,1,2,3,4,5,6,7,8,9,10,20,30,40,50,60,70,80,90,100,200,300,400,500], "labels": false, "title": null,
                      "tickSize": {"condition": {"test": "datum.value == 1 || datum.value == 10 || datum.value == 100", "value": -12}, "value": -6}}},
       "y": {"field": "q", "type": "quantitative",
             "axis": {"orient": "right", "values": [0,0.1,0.2,0.3,0.4,0.5,0.6,0.7,0.8,0.9,1,1.1,1.2,1.3,1.4,1.5,1.6,1.7,1.8,1.9,2,2.1,2.2,2.3,2.4,2.5,2.6,2.7,2.8,2.9,3], "labels": false, "title": null,
                      "tickSize": {"condition": {"test": "round(datum.value*10) % 5 == 0", "value": -12}, "value": -6}}}
     }}
  ],
  "resolve": {"axis": {"x": "independent", "y": "independent"}}
}
]
}
